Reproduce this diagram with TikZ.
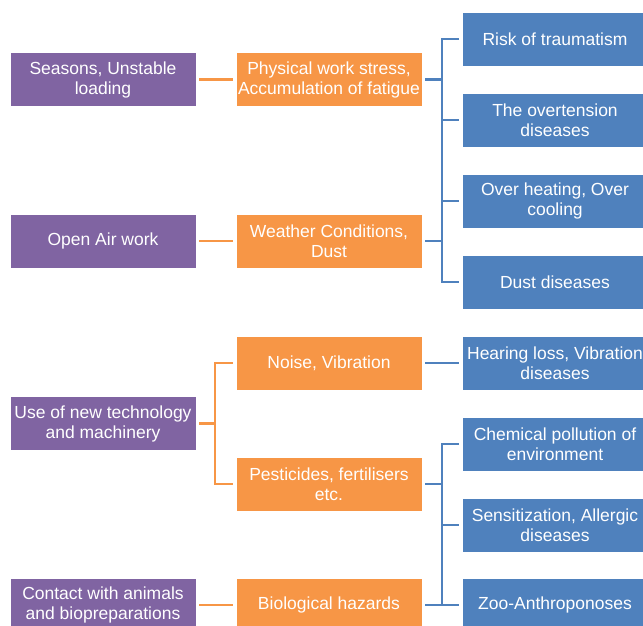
\documentclass[tikz,border=0pt]{standalone}
\usepackage{fontspec}
\setmainfont{Liberation Sans}
\definecolor{cpurple}{HTML}{8064A2}
\definecolor{corange}{HTML}{F79646}
\definecolor{cblue}{HTML}{4F81BD}

\begin{document}
\begin{tikzpicture}[x=1pt,y=-1pt,
    box/.style={draw=white, line width=0.6pt, minimum width=186pt, minimum height=54pt,
        inner sep=0pt, outer sep=3pt, align=center, text=white,
        font=\fontsize{17.5}{20}\selectfont},
    cause/.style={box, fill=cpurple},
    factor/.style={box, fill=corange},
    effect/.style={box, fill=cblue},
    olink/.style={draw=corange, line width=2.6pt},
    blink/.style={draw=cblue, line width=2.6pt}]
    \useasboundingbox (0,0) rectangle (643,626);
    \clip (0,0) rectangle (643,626);

    % causes
    \node[cause] (seasons) at (103,79.5) {Seasons, Unstable\\loading};
    \node[cause] (openair) at (103,241) {Open Air work};
    \node[cause] (newtech) at (103,423.5) {Use of new technology\\and machinery};
    \node[cause] (animals) at (103,605) {Contact with animals\\and biopreparations};

    % factors
    \node[factor] (physical) at (329,79.5) {Physical work stress,\\Accumulation of fatigue};
    \node[factor] (weather) at (329,241) {Weather Conditions,\\Dust};
    \node[factor] (noise) at (329,363) {Noise, Vibration};
    \node[factor] (pesticides) at (329,484) {Pesticides, fertilisers\\etc.};
    \node[factor] (biohazard) at (329,605) {Biological hazards};

    % effects
    \node[effect] (trauma) at (555,39) {Risk of traumatism};
    \node[effect] (overtension) at (555,120) {The overtension\\diseases};
    \node[effect] (overheat) at (555,201) {Over heating, Over\\cooling};
    \node[effect] (dustdis) at (555,282) {Dust diseases};
    \node[effect] (hearing) at (555,363) {Hearing loss, Vibration\\diseases};
    \node[effect] (chemical) at (555,444) {Chemical pollution of\\environment};
    \node[effect] (allergic) at (555,525) {Sensitization, Allergic\\diseases};
    \node[effect] (zoo) at (555,605) {Zoo-Anthroponoses};

    \coordinate (otrunk) at (215,0);
    \coordinate (btrunk) at (442,0);

    % cause -> factor
    \draw[olink] (seasons) -- (physical);
    \draw[olink] (openair) -- (weather);
    \draw[olink] (animals) -- (biohazard);
    \draw[olink] (noise.west) -- (noise.west -| otrunk) -- (pesticides.west -| otrunk) -- (pesticides.west);
    \draw[olink] (newtech.east) -- (newtech.east -| otrunk);

    % factor -> effect
    \draw[blink] (trauma.west) -- (trauma.west -| btrunk) -- (dustdis.west -| btrunk) -- (dustdis.west);
    \draw[blink] (overtension.west -| btrunk) -- (overtension.west);
    \draw[blink] (overheat.west -| btrunk) -- (overheat.west);
    \draw[blink] (physical.east) -- (physical.east -| btrunk);
    \draw[blink] (weather.east) -- (weather.east -| btrunk);
    \draw[blink] (noise) -- (hearing);
    \draw[blink] (chemical.west) -- (chemical.west -| btrunk) -- (zoo.west -| btrunk) -- (zoo.west);
    \draw[blink] (allergic.west -| btrunk) -- (allergic.west);
    \draw[blink] (pesticides.east) -- (pesticides.east -| btrunk);
    \draw[blink] (biohazard.east) -- (biohazard.east -| btrunk);
\end{tikzpicture}
\end{document}
